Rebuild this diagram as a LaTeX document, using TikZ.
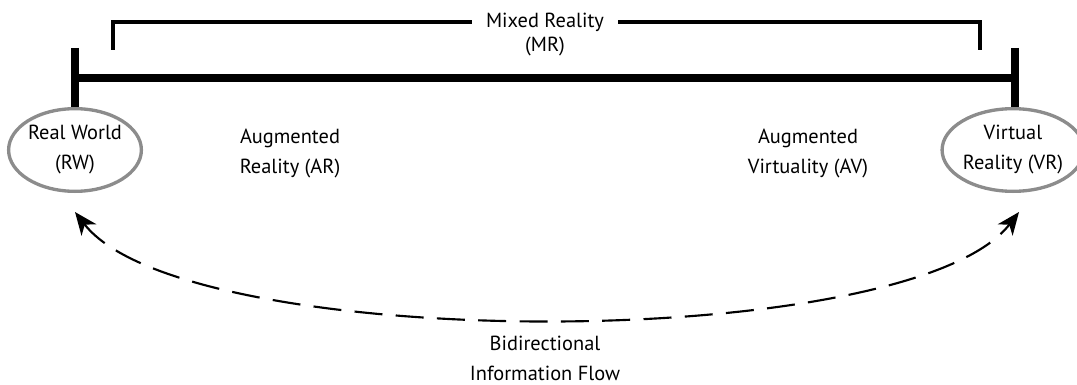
\documentclass[tikz,border=0pt]{standalone}
\usepackage{fontspec}
\setmainfont{PT Sans}
\usetikzlibrary{arrows.meta}
\usetikzlibrary{positioning}
\usetikzlibrary{shapes.geometric}
\definecolor{ringgray}{RGB}{140,140,140}
\tikzset {
  % thick continuum bar and its end ticks
  bar/.style = {
    draw = black,
    line width = 6.5pt
  },
  % thin bracket over the mixed part
  bracket/.style = {
    draw = black,
    line width = 2.3pt
  },
  % dashed two-way flow
  flow/.style = {
    draw = black,
    line width = 1.6pt,
    dash pattern = on 21pt off 10pt,
    {Stealth[length=17pt,width=14pt,inset=5pt]}-{Stealth[length=17pt,width=14pt,inset=5pt]}
  }
}
\tikzset {
  label text/.style = {
    align = center,
    font = \fontsize{15.3}{22.5}\selectfont,
    inner sep = 0
  },
  % end point of the continuum
  world/.style = {
    label text,
    draw = ringgray,
    line width = 2.5pt,
    ellipse,
    minimum width = 96pt,
    minimum height = 62pt
  },
  node distance = 0.5cm
}
\begin{document}
\begin{tikzpicture}[x=0.75pt, y=-0.75pt]
    \useasboundingbox (0,0) rectangle (1077,385);

    \node[world] (rw) at (75,150) {Real World\\(RW)};
    \node[world] (vr) at (1013,150) {Virtual\\Reality (VR)};
    \coordinate (rw-tick) at (75,48);
    \coordinate (vr-tick) at (1015,48);
    \coordinate (bar-left) at (75,78);
    \coordinate (bar-right) at (1015,78);

    \draw[bar] (rw-tick) -- (rw-tick |- rw.north);
    \draw[bar] (vr-tick) -- (vr-tick |- vr.north);
    \draw[bar] (bar-left) -- (bar-right);

    \node[label text, inner xsep = 10pt] (mr) at (545,22) {Mixed Reality};
    \node[label text] (mr-short) [below=4pt of mr] {(MR)};
    \coordinate (mr-left) at (113,50);
    \coordinate (mr-right) at (980,50);
    \draw[bracket] (mr-left) |- (mr.west);
    \draw[bracket] (mr-right) |- (mr.east);

    \node[label text] (ar) at (290,153) {Augmented\\Reality (AR)};
    \node[label text] (av) at (808,153) {Augmented\\Virtuality (AV)};

    \coordinate (rw-flow) at (75,212);
    \coordinate (vr-flow) at (1019,212);
    \draw[flow] (rw-flow) .. controls (185,354) and (910,354) .. (vr-flow);
    \node[label text] (info) at (545,358) {Bidirectional\\Information Flow};
\end{tikzpicture}
\end{document}
